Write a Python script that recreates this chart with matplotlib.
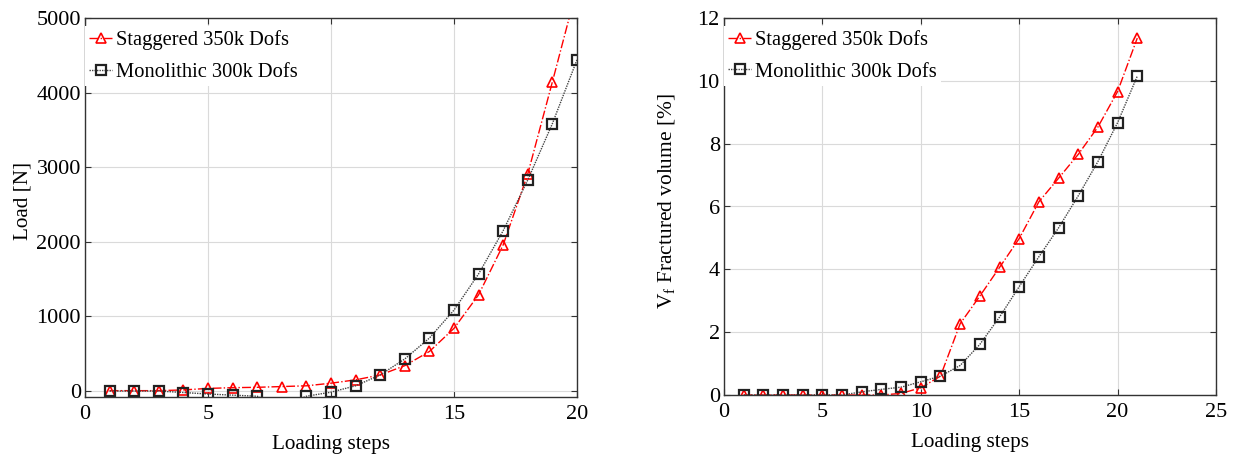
import matplotlib
matplotlib.use("Agg")
import matplotlib.pyplot as plt
import numpy as np

plt.rcParams['font.family'] = ['Liberation Serif', 'DejaVu Serif']
plt.rcParams['mathtext.fontset'] = 'custom'
plt.rcParams['mathtext.rm'] = 'Liberation Serif'
plt.rcParams['mathtext.it'] = 'Liberation Serif'

# ---- data: left panel (Load) ----
steps_load = list(range(1, 21))
load_staggered = [5, 5, 5, 15, 35, 45, 50, 60, 70, 105, 150, 215, 340, 530, 840,
                  1290, 1960, 2910, 4145, 5400]
load_monolithic = [0, 0, 0, -20, -40, -55, -70, -200, -70, -15, 70, 215, 430, 710,
                   1085, 1570, 2150, 2830, 3585, 4440]

# ---- data: right panel (Fractured volume) ----
steps_vol = list(range(1, 22))
vol_staggered = [0, 0, 0, 0, 0, 0, 0, 0, 0.05, 0.23, 0.6, 2.27, 3.15, 4.06, 4.98,
                 6.15, 6.9, 7.66, 8.53, 9.66, 11.36]
vol_monolithic = [0, 0, 0, 0, 0, 0, 0.1, 0.18, 0.25, 0.42, 0.6, 0.94, 1.61, 2.48,
                  3.45, 4.4, 5.32, 6.34, 7.43, 8.67, 10.15]

label_st = 'Staggered 350k Dofs'
label_mo = 'Monolithic 300k Dofs'

fig = plt.figure(figsize=(12.36, 4.61), dpi=100)
ax1 = fig.add_axes([85/1236, 1-397/461, (577-85)/1236, (397-18)/461])
ax2 = fig.add_axes([724/1236, 1-395/461, (1216-724)/1236, (395-18)/461])

def style(ax):
    ax.grid(True, color='#dadada', linewidth=0.8)
    ax.set_axisbelow(True)
    ax.tick_params(direction='in', length=4, labelsize=16, top=True, right=True,
                   color='#333333')
    ax.tick_params(axis='x', pad=6)
    ax.tick_params(axis='y', pad=3)
    for s in ax.spines.values():
        s.set_color('#333333')
        s.set_linewidth(1.0)

def plot_pair(ax, x1, y1, x2, y2):
    ax.plot(x1, y1, color='red', linestyle='-.', linewidth=1.0, marker='^',
            markersize=7, markerfacecolor='none', markeredgecolor='red',
            markeredgewidth=1.2, label=label_st)
    ax.plot(x2, y2, color='#444444', linestyle=(0, (1, 0.8)), linewidth=1.0, marker='s',
            markersize=7.5, markerfacecolor='none', markeredgecolor='#222222',
            markeredgewidth=1.6, label=label_mo)
    leg = ax.legend(loc='upper left', bbox_to_anchor=(0.0, 0.979), frameon=True,
                    fontsize=14.8, handlelength=1.12, handletextpad=0.2,
                    borderaxespad=0.0, borderpad=0.2, labelspacing=0.6,
                    fancybox=False)
    leg.get_frame().set_edgecolor('none')
    leg.get_frame().set_facecolor('white')
    leg.get_frame().set_alpha(1.0)

plot_pair(ax1, steps_load, load_staggered, steps_load, load_monolithic)
style(ax1)
ax1.set_xlim(0, 20)
ax1.set_ylim(-80, 5000)
ax1.set_xticks([0, 5, 10, 15, 20])
ax1.set_yticks([0, 1000, 2000, 3000, 4000, 5000])
ax1.set_xlabel('Loading steps', fontsize=15.2, labelpad=8)
ax1.set_ylabel('Load [N]', fontsize=15.2)
ax1.yaxis.set_label_coords(-0.107, 0.516)

plot_pair(ax2, steps_vol, vol_staggered, steps_vol, vol_monolithic)
style(ax2)
ax2.set_xlim(0, 25)
ax2.set_ylim(0, 12)
ax2.set_xticks([0, 5, 10, 15, 20, 25])
ax2.set_yticks([0, 2, 4, 6, 8, 10, 12])
ax2.set_xlabel('Loading steps', fontsize=15.2, labelpad=8)
ax2.set_ylabel(r'V$_{\mathrm{f}}$ Fractured volume [%]', fontsize=15.4)
ax2.yaxis.set_label_coords(-0.095, 0.513)

fig.savefig('out.png', dpi=100)
